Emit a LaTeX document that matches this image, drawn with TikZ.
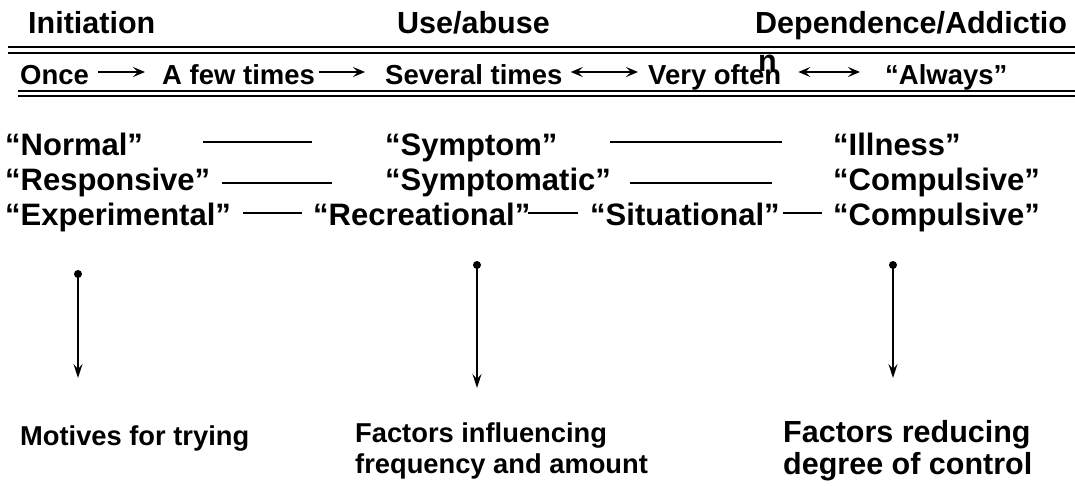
\documentclass[tikz,border=0pt]{standalone}
\usepackage{fontspec}
\setmainfont{Liberation Sans}
\usetikzlibrary{arrows.meta}
\begin{document}
\begin{tikzpicture}[x=1pt,y=-1pt,
  txt/.style={anchor=base west,inner sep=0pt,font=\bfseries\fontsize{31}{36}\selectfont},
  ttl/.style={txt,font=\bfseries\fontsize{30.5}{36}\selectfont},
  rowtwo/.style={txt,font=\bfseries\fontsize{27.5}{32}\selectfont},
  small/.style={txt,font=\bfseries\fontsize{27.3}{31}\selectfont},
  big/.style={txt,font=\bfseries\fontsize{30.5}{33}\selectfont},
  thick line/.style={line width=2.2pt},
  thin line/.style={line width=1.4pt},
  link/.style={line width=1.4pt},
  tip/.style={Stealth[length=12pt,width=10pt,inset=5pt]},
  arr/.style={line width=1.4pt,-{Stealth[length=12pt,width=10pt,inset=5pt]}},
  darr/.style={line width=1.4pt,{Stealth[length=12pt,width=10pt,inset=5pt]}-{Stealth[length=12pt,width=10pt,inset=5pt]}},
  down/.style={line width=1.4pt,-{Stealth[length=14pt,width=9pt,inset=5pt]}},
  dot/.style={circle,fill=black,inner sep=0pt,minimum size=8pt}
]
\useasboundingbox (0,0) rectangle (1075,485);
% titles
\node[ttl] (init) at (28,33) {Initiation};
\node[ttl] (use) at (397,33) {Use/abuse};
\node[ttl] (dep) at (755,33) {Dependence/Addictio};
\node[ttl] (depn) at (758,71) {n};
% double rules
\coordinate (r1a) at (8,47); \coordinate (r1b) at (1075,47);
\coordinate (r2a) at (8,53); \coordinate (r2b) at (1075,53);
\coordinate (r3a) at (18,91); \coordinate (r3b) at (1075,91);
\coordinate (r4a) at (18,96); \coordinate (r4b) at (1075,96);
\draw[thick line] (r1a) -- (r1b);
\draw[thin line] (r2a) -- (r2b);
\draw[thin line] (r3a) -- (r3b);
\draw[thick line] (r4a) -- (r4b);
% frequency row
\node[rowtwo] (once) at (20,84) {Once};
\node[rowtwo] (few) at (162,84) {A few times};
\node[rowtwo] (several) at (385,84) {Several times};
\node[rowtwo] (often) at (648,84) {Very often};
\node[rowtwo] (always) at (885,84) {“Always”};
\draw[arr,shorten <=9pt,shorten >=17pt] ([yshift=12pt]once.base east) -- ([yshift=12pt]few.base west);
\draw[arr,shorten <=4pt,shorten >=20pt] ([yshift=12pt]few.base east) -- ([yshift=12pt]several.base west);
\draw[darr,shorten <=8pt,shorten >=10pt] ([yshift=12pt]several.base east) -- ([yshift=12pt]often.base west);
\draw[darr,shorten <=17pt,shorten >=25pt] ([yshift=12pt]often.base east) -- ([yshift=12pt]always.base west);
% model rows
\node[txt] (normal) at (5,155) {“Normal”};
\node[txt] (symptom) at (385,155) {“Symptom”};
\node[txt] (illness) at (833,155) {“Illness”};
\node[txt] (resp) at (5,190) {“Responsive”};
\node[txt] (sympt) at (385,190) {“Symptomatic”};
\node[txt] (comp1) at (833,190) {“Compulsive”};
\node[txt] (exper) at (5,225) {“Experimental”};
\node[txt] (recr) at (313,225) {“Recreational”};
\node[txt] (situ) at (590,225) {“Situational”};
\node[txt] (comp2) at (833,225) {“Compulsive”};
\coordinate (a1) at (203,142); \coordinate (b1) at (312,142);
\coordinate (a2) at (610,142); \coordinate (b2) at (782,142);
\coordinate (a3) at (222,183); \coordinate (b3) at (332,183);
\coordinate (a4) at (630,183); \coordinate (b4) at (772,183);
\draw[link] (a1) -- (b1);
\draw[link] (a2) -- (b2);
\draw[link] (a3) -- (b3);
\draw[link] (a4) -- (b4);
\coordinate (e1) at (243,213); \coordinate (f1) at (302,213);
\coordinate (e2) at (528,213); \coordinate (f2) at (578,213);
\coordinate (e3) at (783,213); \coordinate (f3) at (822,213);
\draw[link] (e1) -- (f1);
\draw[link] (e2) -- (f2);
\draw[link] (e3) -- (f3);
% factors
\node[dot] (d1) at (78,274) {};
\node[dot] (d2) at (477,265) {};
\node[dot] (d3) at (893,265) {};
\coordinate (t1) at (78,378);
\coordinate (t2) at (477,388);
\coordinate (t3) at (893,378);
\draw[down] (d1.center) -- (t1);
\draw[down] (d2.center) -- (t2);
\draw[down] (d3.center) -- (t3);
\node[small] (motives) at (20,445) {Motives for trying};
\node[small] (inf1) at (355,442) {Factors influencing};
\node[small] (inf2) at (355,473) {frequency and amount};
\node[big] (red1) at (783,442) {Factors reducing};
\node[big] (red2) at (783,474) {degree of control};
\end{tikzpicture}
\end{document}
